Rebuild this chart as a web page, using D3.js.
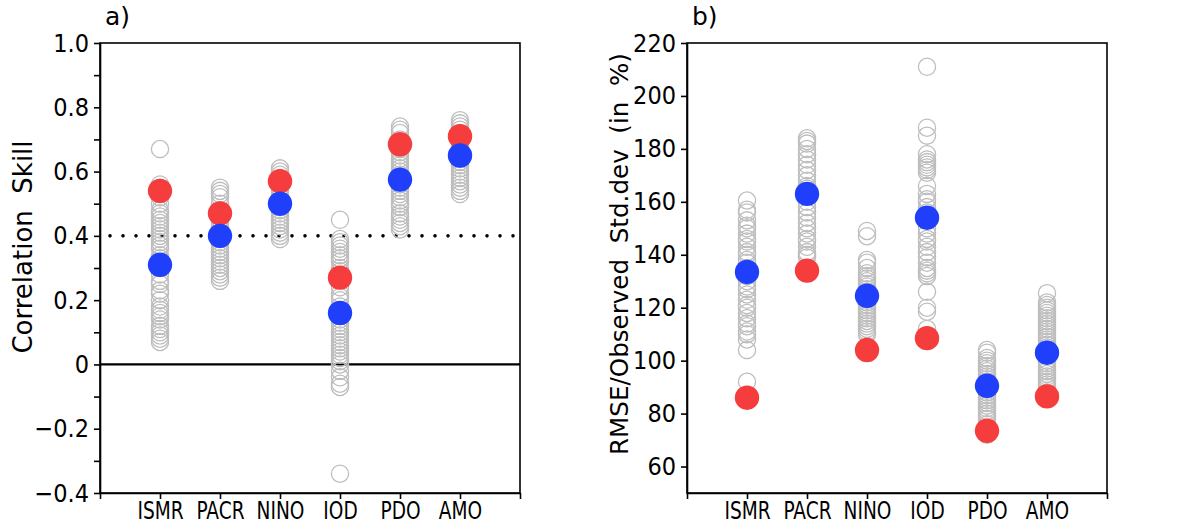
<!DOCTYPE html>
<html><head><meta charset="utf-8">
<script src="https://cdn.jsdelivr.net/npm/d3@7"></script>
<style>
html,body{margin:0;padding:0;background:#fff;}
svg{display:block;}
</style></head>
<body>
<svg id="chart" width="1179" height="530"></svg>
<script>
// ---------- DATA ----------
const categories = ["ISMR", "PACR", "NINO", "IOD", "PDO", "AMO"];

// Panel a) correlation skill
const corrModels = [
  [0.67,0.56,0.55,0.53,0.52,0.50,0.48,0.47,0.46,0.45,0.44,0.43,0.42,0.41,0.40,0.39,0.38,0.37,0.36,0.34,0.33,0.30,0.28,0.26,0.25,0.23,0.22,0.20,0.18,0.17,0.16,0.15,0.14,0.12,0.11,0.10,0.09,0.08,0.07],
  [0.55,0.54,0.53,0.52,0.50,0.48,0.46,0.45,0.44,0.43,0.42,0.41,0.40,0.39,0.38,0.37,0.36,0.35,0.34,0.33,0.32,0.31,0.30,0.29,0.28,0.27,0.26],
  [0.61,0.60,0.59,0.58,0.56,0.55,0.54,0.53,0.52,0.51,0.50,0.49,0.48,0.47,0.46,0.45,0.44,0.43,0.42,0.41,0.40,0.39],
  [0.45,0.39,0.38,0.37,0.36,0.35,0.34,0.33,0.32,0.30,0.29,0.24,0.22,0.21,0.20,0.18,0.14,0.13,0.12,0.11,0.10,0.09,0.08,0.07,0.06,0.05,0.04,0.03,0.02,0.01,0.00,-0.02,-0.04,-0.06,-0.07,-0.34],
  [0.74,0.73,0.72,0.70,0.69,0.67,0.66,0.65,0.64,0.63,0.62,0.61,0.60,0.59,0.58,0.56,0.55,0.54,0.53,0.52,0.51,0.50,0.49,0.47,0.46,0.45,0.44,0.43,0.42],
  [0.76,0.75,0.74,0.73,0.72,0.70,0.69,0.68,0.67,0.66,0.64,0.63,0.62,0.61,0.60,0.59,0.58,0.57,0.56,0.55,0.54,0.53]
];
const corrRed  = [0.54, 0.47, 0.57, 0.27, 0.685, 0.71];
const corrBlue = [0.31, 0.40, 0.50, 0.16, 0.575, 0.65];
const corrTicks = [-0.4, -0.2, 0, 0.2, 0.4, 0.6, 0.8, 1.0];
const corrTickLabels = ["\u22120.4", "\u22120.2", "0", "0.2", "0.4", "0.6", "0.8", "1.0"];
const corrMinorTicks = [-0.3, -0.1, 0.1, 0.3, 0.5, 0.7, 0.9];
const corrThreshold = 0.4;

// Panel b) RMSE / observed std.dev (in %)
const rmseModels = [
  [160.5,157,156,153,151,150,148,146,145,143,141,140,138,137,135,132,130,128,127,125,123,121,120,118,116,114,113,111,110,108,104,92],
  [184,183,182,180,178,176,174,172,170,168,166,165,160,158,156,154,152,150,148,146,145,143,141,140,139],
  [149,147,138,137,135,133,132,131,130,129,128,127,126,125,123,122,121,120,119,118,117,116,115,114,113,112,111,110],
  [211,188,185,178,176,175,174,173,172,171,166,163,161,160,158,156,150,148,146,145,143,141,139,137,135,134,133,132,126,120,118.5,112],
  [104,103,101,100,99,98,97,96,95,94,93,92,91,89,88,87,86,85,84,83,82,81,80,79,78,76,74,72],
  [125.5,122,121,120,119,118,117,116,115,114,113,112,111,110,109,108,107,106,105,104,102,100,99,98,97,96,95,94,93,92,91,90,88,86]
];
const rmseRed  = [86, 134, 104, 108.5, 73.5, 86.5];
const rmseBlue = [133.5, 163, 124.5, 154, 90.5, 103];
const rmseTicks = [60, 80, 100, 120, 140, 160, 180, 200, 220];

const panelLabels = ["a)", "b)"];
const yTitles = ["Correlation  Skill", "RMSE/Observed  Std.dev  (in  %)"];

// ---------- STYLE ----------
const RED = "#f53d3d", BLUE = "#1f3ffa", GREY = "#bdbdbd";
const tickFont = "'Liberation Sans Narrow','DejaVu Sans Condensed','Liberation Sans',sans-serif";
const titleFont = "'DejaVu Sans','Liberation Sans',sans-serif";

const svg = d3.select("#chart");
const plotTop = 43, plotBottom = 493;

function panel(opts) {
  const g = svg.append("g");
  const x = d3.scaleLinear().domain([0, 7]).range([opts.left, opts.left + 420]);
  const y = d3.scaleLinear().domain(opts.domain).range([plotBottom, plotTop]);

  if (opts.threshold !== undefined) {
    g.append("line")
      .attr("x1", x(0)).attr("x2", x(7))
      .attr("y1", y(opts.threshold)).attr("y2", y(opts.threshold))
      .attr("stroke", "#000").attr("stroke-width", 3.6)
      .attr("stroke-linecap", "round")
      .attr("stroke-dasharray", "0 13").attr("stroke-dashoffset", -10);
    g.append("line")
      .attr("x1", x(0)).attr("x2", x(7))
      .attr("y1", y(0)).attr("y2", y(0))
      .attr("stroke", "#000").attr("stroke-width", 2.2);
  }

  opts.models.forEach((vals, i) => {
    g.append("g").selectAll("circle").data(vals).join("circle")
      .attr("cx", x(i + 1)).attr("cy", d => y(d)).attr("r", 8.6)
      .attr("fill", "none").attr("stroke", GREY).attr("stroke-width", 1.3);
  });
  g.append("g").selectAll("circle").data(opts.red).join("circle")
    .attr("cx", (d, i) => x(i + 1)).attr("cy", d => y(d)).attr("r", 12.2)
    .attr("fill", RED);
  g.append("g").selectAll("circle").data(opts.blue).join("circle")
    .attr("cx", (d, i) => x(i + 1)).attr("cy", d => y(d)).attr("r", 12.2)
    .attr("fill", BLUE);

  g.append("rect").attr("x", x(0)).attr("y", plotTop)
    .attr("width", x(7) - x(0)).attr("height", plotBottom - plotTop)
    .attr("fill", "none").attr("stroke", "#000").attr("stroke-width", 1.6);

  const ya = g.append("g").attr("transform", `translate(${x(0)},0)`)
    .call(d3.axisLeft(y).tickValues(opts.ticks).tickSize(6).tickSizeOuter(0)
      .tickFormat((d, i) => opts.tickLabels[i]));
  if (opts.minor) {
    g.append("g").attr("transform", `translate(${x(0)},0)`)
      .call(d3.axisLeft(y).tickValues(opts.minor).tickSize(6).tickSizeOuter(0).tickFormat(""))
      .call(a => a.select(".domain").remove());
  }
  const xa = g.append("g").attr("transform", `translate(0,${plotBottom})`)
    .call(d3.axisBottom(x).tickValues([0,1,2,3,4,5,6,7]).tickSize(6).tickSizeOuter(0)
      .tickFormat(d => (d >= 1 && d <= 6) ? categories[d - 1] : ""));

  g.selectAll(".domain").attr("stroke-width", 1.6);
  g.selectAll(".tick line").attr("stroke-width", 1.6);
  ya.selectAll(".tick text").attr("font-family", tickFont).attr("font-size", 25)
    .attr("fill", "#000").attr("x", -11);
  xa.selectAll(".tick text").attr("font-family", tickFont).attr("font-size", 24)
    .attr("fill", "#000").attr("y", 9).attr("transform", "scale(0.86,1)");

  g.append("text")
    .attr("transform", `translate(${opts.titleX},${opts.titleY}) rotate(-90)`)
    .attr("text-anchor", "middle")
    .attr("font-family", titleFont).attr("font-size", opts.titleSize)
    .style("white-space", "pre")
    .text(opts.title);

  g.append("text").attr("x", x(0) + 5).attr("y", 25)
    .attr("font-family", titleFont).attr("font-size", 25)
    .text(opts.label);
}

panel({
  left: 100, domain: [-0.4, 1.0], ticks: corrTicks, tickLabels: corrTickLabels,
  minor: corrMinorTicks, threshold: corrThreshold,
  models: corrModels, red: corrRed, blue: corrBlue,
  title: yTitles[0], titleX: 32, titleY: 247, titleSize: 26, label: panelLabels[0]
});
panel({
  left: 687, domain: [50, 220], ticks: rmseTicks, tickLabels: rmseTicks.map(String),
  models: rmseModels, red: rmseRed, blue: rmseBlue,
  title: yTitles[1], titleX: 628, titleY: 254, titleSize: 24.6, label: panelLabels[1]
});
</script>
</body></html>
